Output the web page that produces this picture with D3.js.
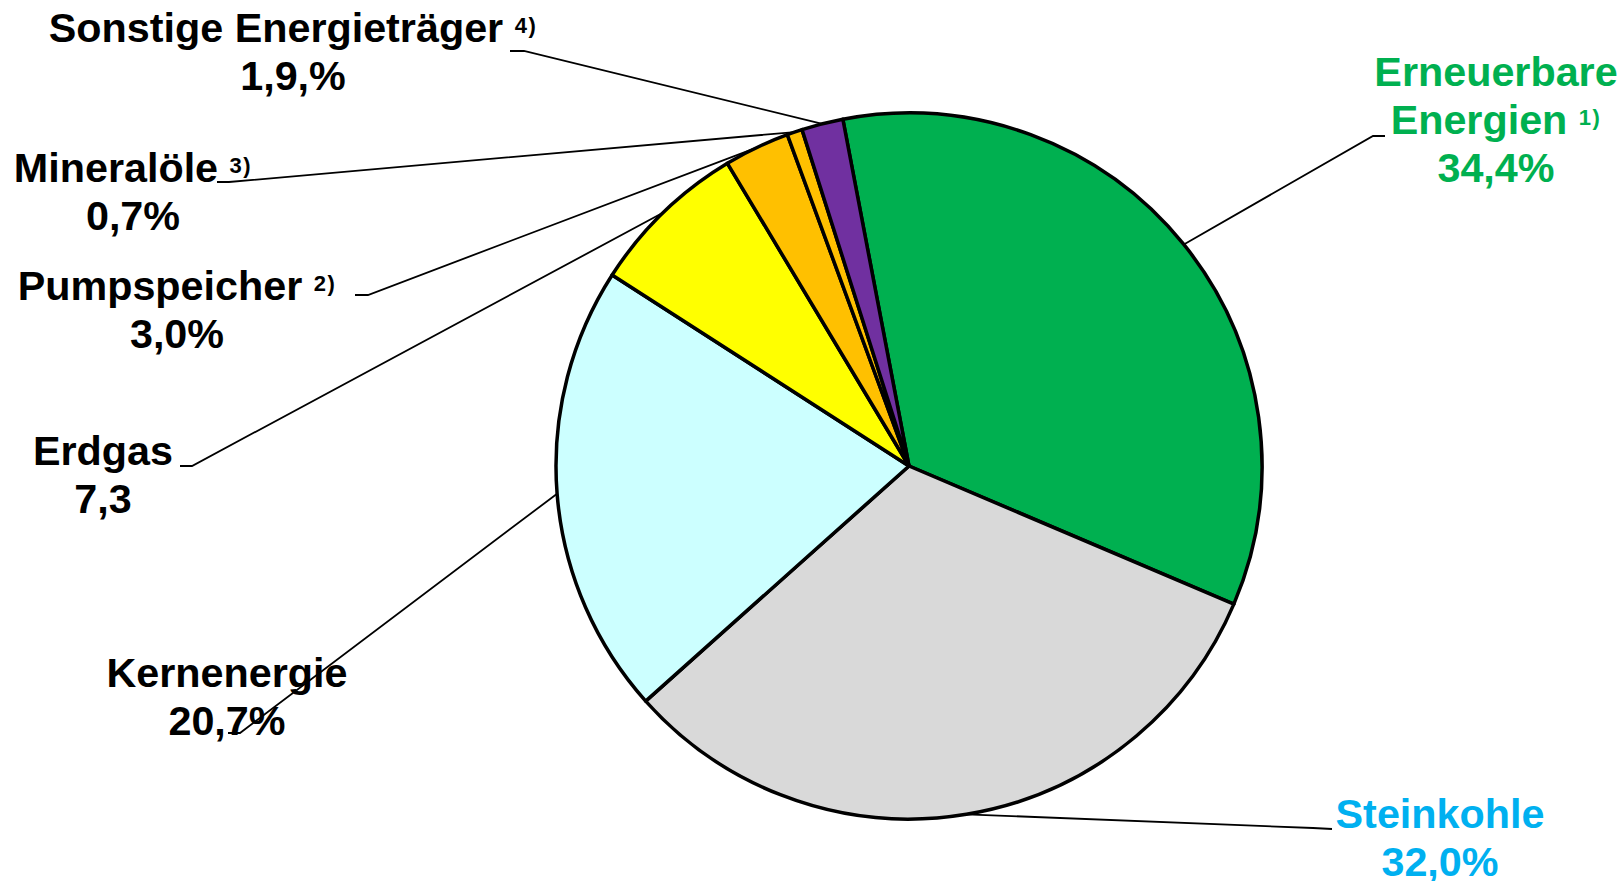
<!DOCTYPE html>
<html>
<head>
<meta charset="utf-8">
<script src="https://cdn.jsdelivr.net/npm/d3@7"></script>
<style>
  body { margin: 0; background: #fff; }
  svg { display: block; }
  .label { font-family: "Liberation Sans", Arial, sans-serif; font-weight: bold; }
</style>
</head>
<body>
<script>
// Data
var categories = ["Erneuerbare Energien", "Steinkohle", "Kernenergie", "Erdgas", "Pumpspeicher", "Mineralöle", "Sonstige Energieträger"];
var shares = [34.4, 32.0, 20.7, 7.3, 3.0, 0.7, 1.9];
var nameLines = [["Erneuerbare", "Energien"], ["Steinkohle"], ["Kernenergie"], ["Erdgas"], ["Pumpspeicher"], ["Mineralöle"], ["Sonstige Energieträger"]];
var footnotes = ["1)", "", "", "", "2)", "3)", "4)"];
var valueLabels = ["34,4%", "32,0%", "20,7%", "7,3", "3,0%", "0,7%", "1,9,%"];

// Styles
var colors = ["#00B050", "#D9D9D9", "#CCFFFF", "#FFFF00", "#FFC000", "#FFC000", "#7030A0"];
var textColors = ["#00B050", "#00B0F0", "#000", "#000", "#000", "#000", "#000"];

// Label layout: text centre x, first baseline y, leader start and elbow
var labelPos = [
  {x: 1496, y: 86,  sx: 1385, sy: 136, ex: 1373, ey: 136},
  {x: 1440, y: 828, sx: 1332, sy: 829, ex: 1313, ey: 828},
  {x: 227,  y: 687, sx: 228,  sy: 733, ex: 240,  ey: 733},
  {x: 103,  y: 465, sx: 180,  sy: 466, ex: 192,  ey: 466},
  {x: 177,  y: 300, sx: 355,  sy: 295, ex: 368,  ey: 295},
  {x: 133,  y: 182, sx: 217,  sy: 182, ex: 229,  ey: 182},
  {x: 293,  y: 42,  sx: 510,  sy: 51,  ex: 524,  ey: 51}
];

var width = 1622, height = 881;
var cx = 909, cy = 466, radius = 353;
var lineGap = 48;
var startDeg = -10.8;

var svg = d3.select("body")
  .append("svg")
  .attr("width", width)
  .attr("height", height);

var data = categories.map(function(c, i) { return {name: c, value: shares[i], i: i}; });

var pie = d3.pie()
  .sort(null)
  .value(function(d) { return d.value; })
  .startAngle(startDeg * Math.PI / 180)
  .endAngle((startDeg + 360) * Math.PI / 180);

var arc = d3.arc().innerRadius(0).outerRadius(radius);
var arcs = pie(data);

var g = svg.append("g").attr("transform", "translate(" + cx + "," + cy + ")");

// Slices
g.selectAll(".slice")
  .data(arcs)
  .enter().append("path")
  .attr("class", "slice")
  .attr("d", arc)
  .attr("fill", function(d) { return colors[d.data.i]; })
  .attr("stroke", "#000")
  .attr("stroke-width", 3.5)
  .attr("stroke-linejoin", "round");

// Leader lines
svg.selectAll(".leader")
  .data(arcs)
  .enter().append("polyline")
  .attr("class", "leader")
  .attr("fill", "none")
  .attr("stroke", "#000")
  .attr("stroke-width", 1.8)
  .attr("points", function(d) {
    var p = labelPos[d.data.i];
    var a = (d.startAngle + d.endAngle) / 2;
    var px = cx + radius * Math.sin(a), py = cy - radius * Math.cos(a);
    return [[p.sx, p.sy], [p.ex, p.ey], [px, py]].map(function(q) { return q.join(","); }).join(" ");
  });

// Labels
data.forEach(function(d, i) {
  var p = labelPos[i];
  var lines = nameLines[i];
  lines.forEach(function(line, k) {
    var t = svg.append("text")
      .attr("class", "label")
      .attr("x", p.x)
      .attr("y", p.y + k * lineGap)
      .attr("text-anchor", "middle")
      .attr("font-size", "41.3px")
      .attr("fill", textColors[i]);
    t.append("tspan").text(line);
    if (k === lines.length - 1 && footnotes[i]) {
      t.append("tspan").text(" ");
      t.append("tspan")
        .attr("font-size", "22px")
        .attr("letter-spacing", "1.5px")
        .attr("dy", -9)
        .text(footnotes[i]);
    }
  });
  svg.append("text")
    .attr("class", "label")
    .attr("x", p.x)
    .attr("y", p.y + lines.length * lineGap)
    .attr("text-anchor", "middle")
    .attr("font-size", "41.3px")
    .attr("fill", textColors[i])
    .text(valueLabels[i]);
});
</script>
</body>
</html>
